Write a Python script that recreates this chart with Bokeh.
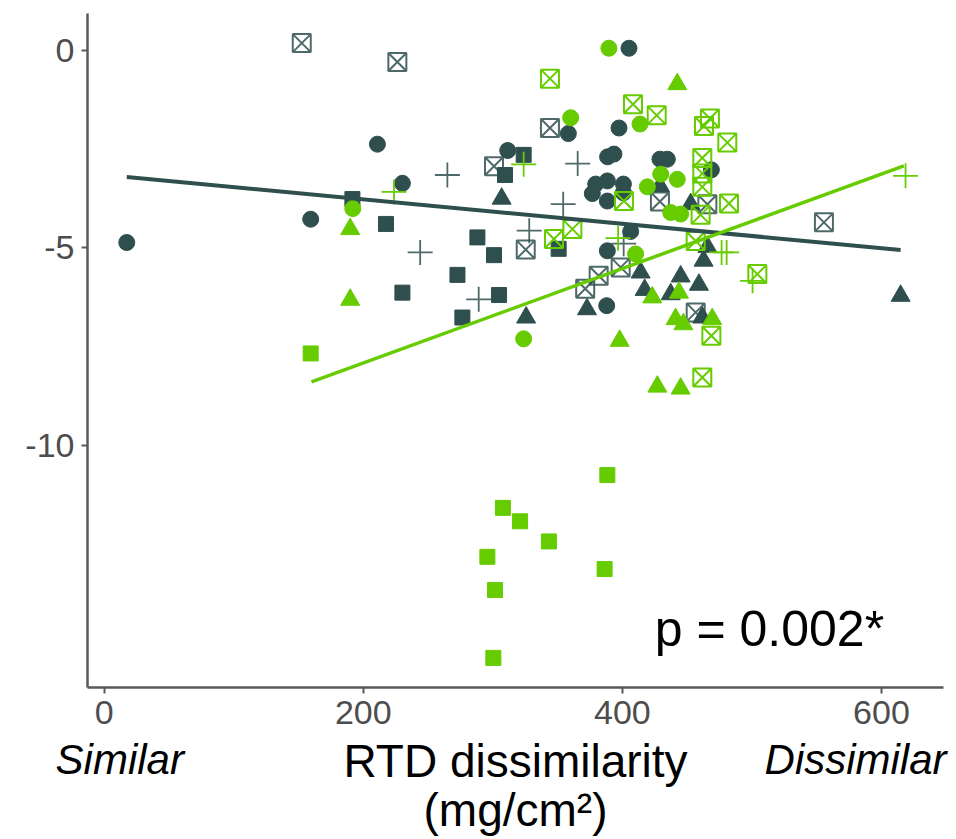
from bokeh.plotting import figure
from bokeh.models import FixedTicker, Label, LinearAxis
from bokeh.embed import file_html
from bokeh.resources import INLINE

DARK = "#2F4F4F"
GREEN = "#66CC00"

# ---- data (x = RTD dissimilarity, y = response) ----
dark_circle_x = [17.4, 159.4, 210.9, 230.2, 311.5, 358.3, 405.1, 397.4, 388.6, 393.5, 429.0, 434.7,
                 468.7, 379.4, 388.4, 376.8, 388.4, 400.8, 400.8, 406.4, 388.4, 387.9]
dark_circle_y = [-4.87, -4.28, -2.38, -3.37, -2.54, -2.11, 0.05, -1.97, -2.70, -2.63, -2.76, -2.76,
                 -3.03, -3.39, -3.31, -3.63, -3.82, -3.39, -3.61, -4.59, -5.08, -6.47]

dark_square_x = [191.6, 217.5, 230.2, 272.7, 288.1, 300.9, 276.5, 304.8, 309.4, 323.8, 350.8]
dark_square_y = [-3.77, -4.40, -6.14, -5.69, -4.74, -5.19, -6.77, -6.20, -3.16, -2.65, -5.03]

dark_triangle_x = [306.8, 325.7, 429.0, 452.7, 465.6, 462.7, 414.1, 417.2, 445.0, 459.1, 437.3,
                   372.7, 461.7, 614.8]
dark_triangle_y = [-3.76, -6.77, -3.44, -3.90, -4.98, -5.33, -5.63, -6.07, -5.73, -5.94, -6.18,
                   -6.56, -6.77, -6.22]

dark_cross_x = [264.9, 243.9, 289.1, 365.5, 354.3, 328.1, 401.0]
dark_cross_y = [-3.16, -5.12, -6.31, -2.87, -3.90, -4.57, -4.90]

dark_box_x = [152.5, 226.3, 300.9, 344.1, 325.4, 429.0, 465.6, 398.7, 381.7, 371.3, 456.6, 555.6]
dark_box_y = [0.18, -0.30, -2.94, -1.97, -5.05, -3.83, -3.90, -5.50, -5.71, -6.04, -6.64, -4.36]

green_circle_x = [191.9, 323.8, 389.6, 360.1, 413.6, 429.6, 442.4, 419.3, 437.3, 445.0, 410.2]
green_circle_y = [-4.01, -7.31, 0.05, -1.71, -1.87, -3.14, -3.27, -3.46, -4.11, -4.15, -5.16]

green_square_x = [159.4, 388.4, 307.8, 321.0, 343.3, 295.8, 386.3, 301.7, 300.4]
green_square_y = [-7.68, -10.76, -11.59, -11.93, -12.44, -12.83, -13.14, -13.67, -15.39]

green_triangle_x = [189.9, 189.9, 442.4, 423.1, 443.7, 441.1, 447.1, 469.4, 397.9, 427.0, 445.0]
green_triangle_y = [-4.53, -6.32, -0.86, -6.26, -6.14, -6.81, -6.94, -6.81, -7.36, -8.52, -8.57]

green_cross_x = [223.7, 323.8, 618.6, 476.6, 480.5, 500.5, 396.7]
green_cross_y = [-3.59, -2.89, -3.18, -5.12, -5.12, -5.84, -4.76]

green_box_x = [344.1, 408.2, 426.5, 467.6, 463.0, 481.0, 461.7, 461.7, 461.7, 401.2, 482.3, 460.4,
               361.4, 347.2, 456.6, 504.2, 468.7, 461.7]
green_box_y = [-0.72, -1.37, -1.65, -1.73, -1.92, -2.34, -2.73, -3.12, -3.46, -3.82, -3.88, -4.17,
               -4.53, -4.78, -4.83, -5.67, -7.23, -8.29]

# fitted regression lines (endpoints of fitted values)
dark_fit_x = [17.4, 614.8]
dark_fit_y = [-3.21, -5.06]
green_fit_x = [160.0, 617.3]
green_fit_y = [-8.40, -2.93]

x_ticks = [0, 200, 400, 600]
y_ticks = [-10, -5, 0]
x_tick_labels = {0: "0", 200: "200", 400: "400", 600: "600"}
y_tick_labels = {-10: "-10", -5: "-5", 0: "0"}
end_ticks = [12, 580]
end_labels = {12: "Similar", 580: "Dissimilar"}
x_title = "RTD dissimilarity\n(mg/cm\u00b2)"
p_text = "p = 0.002*"

p = figure(width=956, height=839, output_backend="svg", toolbar_location=None,
           x_range=(-12.9, 647.9), y_range=(-16.14, 0.93),
           min_border_left=87, min_border_right=13, min_border_top=13, min_border_bottom=152)
p.outline_line_color = None
p.xgrid.visible = False
p.ygrid.visible = False
p.background_fill_color = "white"

AX = "#5a5a5a"
for ax in (p.xaxis[0], p.yaxis[0]):
    ax.axis_line_color = AX
    ax.axis_line_width = 2.5
    ax.major_tick_line_color = AX
    ax.major_tick_line_width = 2
    ax.major_tick_out = 6
    ax.major_tick_in = 0
    ax.minor_tick_line_color = None
    ax.major_label_text_font = "Liberation Sans"
    ax.major_label_text_font_size = "34px"
    ax.major_label_text_color = "#4d4d4d"
    ax.major_label_standoff = 7

p.xaxis[0].ticker = FixedTicker(ticks=x_ticks)
p.yaxis[0].ticker = FixedTicker(ticks=y_ticks)
p.xaxis[0].major_label_overrides = x_tick_labels
p.yaxis[0].major_label_overrides = y_tick_labels

# second bottom axis carrying the end descriptors and the axis title
x2 = LinearAxis(ticker=FixedTicker(ticks=end_ticks), major_label_overrides=end_labels,
                axis_line_color=None, major_tick_line_color=None, major_tick_out=0,
                major_tick_in=0, minor_tick_line_color=None,
                major_label_text_font="Liberation Sans", major_label_text_font_style="italic",
                major_label_text_font_size="42px", major_label_text_color="black",
                major_label_standoff=9,
                axis_label=x_title, axis_label_text_font="Liberation Sans",
                axis_label_text_font_style="normal", axis_label_text_font_size="46px",
                axis_label_text_color="black", axis_label_standoff=-51,
                axis_label_text_line_height=0.95)
p.add_layout(x2, "below")

# points
p.scatter(dark_circle_x, dark_circle_y, marker="circle", size=16, color=DARK)
p.scatter(dark_square_x, dark_square_y, marker="square", size=15, color=DARK)
p.scatter(dark_triangle_x, dark_triangle_y, marker="triangle", size=19, color=DARK)
p.scatter(dark_cross_x, dark_cross_y, marker="cross", size=25, line_color=DARK, line_width=1.8, line_alpha=0.85)
p.scatter(dark_box_x, dark_box_y, marker="square_x", size=18, line_color=DARK, fill_color=None,
          line_width=2, line_alpha=0.85)

p.scatter(green_circle_x, green_circle_y, marker="circle", size=16, color=GREEN)
p.scatter(green_square_x, green_square_y, marker="square", size=15, color=GREEN)
p.scatter(green_triangle_x, green_triangle_y, marker="triangle", size=19, color=GREEN)
p.scatter(green_cross_x, green_cross_y, marker="cross", size=25, line_color=GREEN, line_width=1.8)
p.scatter(green_box_x, green_box_y, marker="square_x", size=18, line_color=GREEN, fill_color=None,
          line_width=2)

# regression lines
p.line(dark_fit_x, dark_fit_y, line_color=DARK, line_width=4)
p.line(green_fit_x, green_fit_y, line_color=GREEN, line_width=3.5)

p.add_layout(Label(x=425.0, y=-14.65, text=p_text, text_align="left",
                   text_baseline="alphabetic", text_font="Liberation Sans",
                   text_font_size="50px", text_color="black"))

open("out.html", "w").write(file_html(p, INLINE))
